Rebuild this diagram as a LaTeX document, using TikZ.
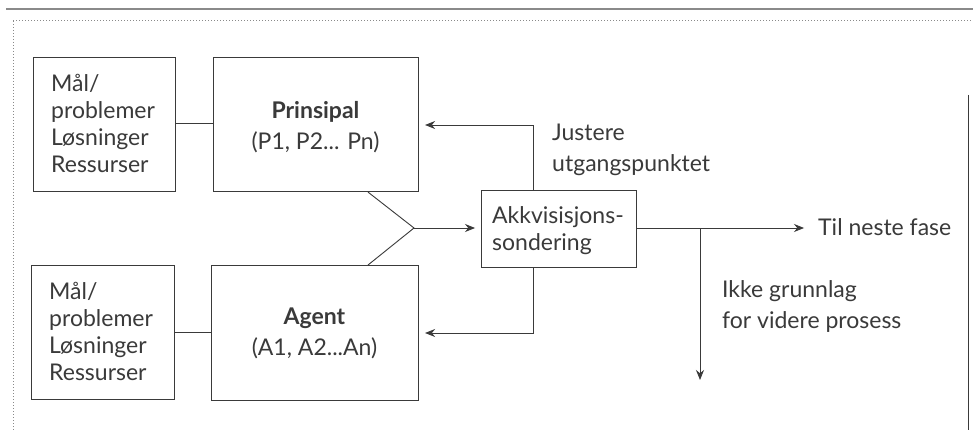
\documentclass[tikz,border=0pt]{standalone}
\usepackage{fontspec}
\setmainfont{Lato}
\usetikzlibrary{arrows.meta,positioning,calc}
\definecolor{ink}{HTML}{3A3A3A}
\definecolor{frame}{HTML}{8A8A8A}
\begin{document}
\begin{tikzpicture}[x=1pt,y=-1pt,
  box/.style={draw=ink,line width=1.1pt,text=ink,inner sep=0pt,anchor=north west},
  lbl/.style={text=ink,font=\fontsize{23}{27}\selectfont,align=left,inner sep=0pt},
  big/.style={text=ink,font=\fontsize{23}{31}\selectfont,align=left,inner sep=0pt},
  conn/.style={draw=ink,line width=0.9pt},
  arr/.style={conn,-{Stealth[length=10pt,width=8pt]}}]
\useasboundingbox (0,0) rectangle (973,430);
\fill[white] (0,0) rectangle (973,430);
% frame lines
\draw[frame,line width=1.2pt] (6,9) -- (973,9);
\draw[frame,line width=1pt,dotted] (13,21) -- (973,21);
\draw[frame,line width=1pt,dotted] (13,21) -- (13,430);
\draw[ink,line width=1pt] (968,95) -- (968,430);
% boxes
\node[box,minimum width=142pt,minimum height=134pt] (m1) at (33,57) {};
\node[lbl,anchor=base west] (m1t) at (51,173) {Mål/\\problemer\\Løsninger\\Ressurser};
\node[box,minimum width=205pt,minimum height=134pt] (p) at (213,57) {};
\node[big,align=center,anchor=base] (pt) at (315.5,150) {\textbf{Prinsipal}\\(P1, P2... Pn)};
\node[box,minimum width=143pt,minimum height=134pt] (m2) at (31,265) {};
\node[lbl,anchor=base west] (m2t) at (49,380) {Mål/\\problemer\\Løsninger\\Ressurser};
\node[box,minimum width=207pt,minimum height=135pt] (a) at (211,265) {};
\node[big,align=center,anchor=base] (at) at (314.5,355) {\textbf{Agent}\\(A1, A2...An)};
\node[box,minimum width=155pt,minimum height=77pt] (k) at (481,190) {};
\node[lbl,anchor=base west] (kt) at (492,250) {Akkvisisjons-\\sondering};
% connectors
\draw[conn] (m1.east |- 0,123) -- (p.west |- 0,123);
\draw[conn] (m2.east |- 0,332) -- (a.west |- 0,332);
\coordinate (fork) at (414,228);
\coordinate (ps) at ($(p.south west)+(155,0)$);
\coordinate (an) at ($(a.north west)+(157,0)$);
\draw[conn] (ps) -- (fork) -- (an);
\draw[arr] (fork) -- ($(k.west |- fork)+(-6,0)$);
\coordinate (kup) at (533,125);
\coordinate (kdn) at (533,333);
\draw[arr] (k.north -| kup) -- (kup) -- ($(p.east |- kup)+(6,0)$);
\draw[arr] (k.south -| kdn) -- (kdn) -- ($(a.east |- kdn)+(6,0)$);
\coordinate (split) at (700,228);
\node[big,anchor=base west] (til) at (818,236) {Til neste fase};
\draw[arr] (k.east |- split) -- ($(til.west |- split)+(-14,0)$);
\coordinate (down) at (700,380);
\draw[arr] (split) -- (down);
\node[big,anchor=base west] (jt) at (552,172) {Justere\\utgangspunktet};
\node[big,anchor=base west] (ik) at (722,328) {Ikke grunnlag\\for videre prosess};
\end{tikzpicture}
\end{document}
